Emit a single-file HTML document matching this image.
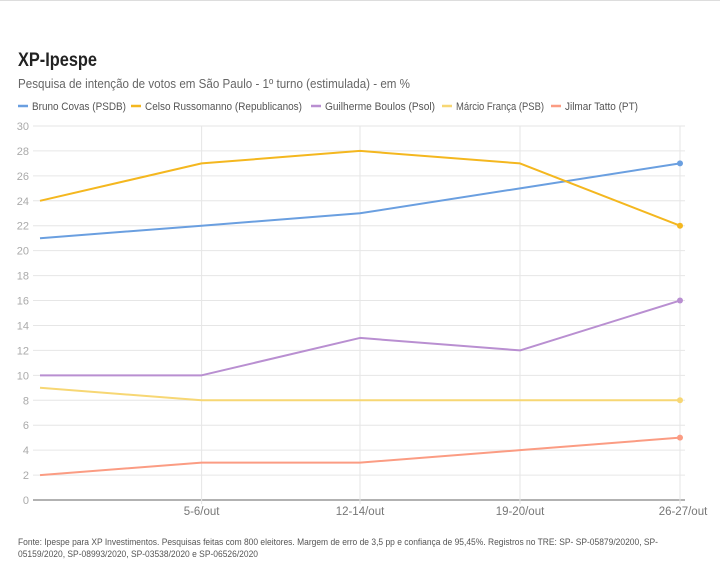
<!DOCTYPE html>
<html><head><meta charset="utf-8">
<style>
body{margin:0;background:#fff;width:720px;height:573px;overflow:hidden;font-family:"Liberation Sans Narrow","Liberation Sans",sans-serif;}
.top{position:absolute;left:0;top:0;width:720px;height:2px;border-top:1px solid #ddd;}
</style></head>
<body>
<div class="top"></div>
<svg id="chart" width="720" height="573" style="position:absolute;left:0;top:0">
<text x="18" y="66" font-size="19" font-weight="bold" fill="#222" textLength="79" lengthAdjust="spacingAndGlyphs">XP-Ipespe</text>
<text x="18" y="88" font-size="12.5" fill="#666" textLength="392" lengthAdjust="spacingAndGlyphs">Pesquisa de intenção de votos em São Paulo - 1º turno (estimulada) - em %</text>
<g id="legend"></g>
<g id="grid"></g>
<g id="series"></g>
<text x="18" y="545" font-size="9" fill="#555" textLength="640" lengthAdjust="spacingAndGlyphs">Fonte: Ipespe para XP Investimentos. Pesquisas feitas com 800 eleitores. Margem de erro de 3,5 pp e confiança de 95,45%. Registros no TRE: SP- SP-05879/20200, SP-</text>
<text x="18" y="557" font-size="9" fill="#555" textLength="240" lengthAdjust="spacingAndGlyphs">05159/2020, SP-08993/2020, SP-03538/2020 e SP-06526/2020</text>
</svg>
<script>
const categories = ["", "5-6/out", "12-14/out", "19-20/out", "26-27/out"];
const catPos = [0, 1.01, 2, 3, 4];
const seriesNames = ["Bruno Covas (PSDB)","Celso Russomanno (Republicanos)","Guilherme Boulos (Psol)","Márcio França (PSB)","Jilmar Tatto (PT)"];
const covas = [21, 22, 23, 25, 27];
const russomanno = [24, 27, 28, 27, 22];
const boulos = [10, 10, 13, 12, 16];
const franca = [9, 8, 8, 8, 8];
const tatto = [2, 3, 3, 4, 5];
const yTicks = [0,2,4,6,8,10,12,14,16,18,20,22,24,26,28,30];
const colors = ["#6a9fe0","#f4b71f","#b98fd1","#f7d774","#fb9c83"];
const allSeries = [covas, russomanno, boulos, franca, tatto];
const legendX = [18, 131, 311, 442, 551];
const legendW = [94, 157, 110, 88, 73];

const NS = "http://www.w3.org/2000/svg";
const x0 = 40, x1 = 680, yBase = 500, yTop = 126;
const xScale = i => x0 + (x1 - x0) * i / 4;
const yScale = v => yBase - (yBase - yTop) * v / 30;
function mk(tag, attrs, parent){const e=document.createElementNS(NS,tag);for(const k in attrs)e.setAttribute(k,attrs[k]);parent.appendChild(e);return e;}

const grid = document.getElementById('grid');
yTicks.forEach(t=>{
  const y=yScale(t);
  const l=mk('line',{x1:33,x2:685,y1:y,y2:y,stroke:t===0?'#999':'#e6e6e6','stroke-width':t===0?1.5:1},grid);
  
  
  const tx=mk('text',{x:29,y:y+4,'text-anchor':'end','font-size':11,fill:'#aaa'},grid);
  tx.textContent=t;
  
  
});
categories.forEach((c,i)=>{
  if(!c) return;
  const x=xScale(catPos[i]);
  const l=mk('line',{x1:x,x2:x,y1:yTop,y2:yBase+4,stroke:'#e6e6e6'},grid);
  
  
  const tx=mk('text',{x:x+(i===4?3:0),y:515,'text-anchor':'middle','font-size':11.5,fill:'#777'},grid);
  tx.textContent=c;
  
  
});

const sg=document.getElementById('series');
allSeries.forEach((vals,si)=>{
  const pts=vals.map((v,i)=>xScale(catPos[i])+','+yScale(v)).join(' ');
  const p=mk('polyline',{points:pts,fill:'none',stroke:colors[si],'stroke-width':2,'stroke-linejoin':'round'},sg);
  
  
  const c=mk('circle',{cx:xScale(catPos[4]),cy:yScale(vals[4]),r:3,fill:colors[si]},sg);
  
  
});

const lg=document.getElementById('legend');
seriesNames.forEach((n,i)=>{
  const lx=legendX[i];
  const l=mk('line',{x1:lx,x2:lx+10,y1:106,y2:106,stroke:colors[i],'stroke-width':2.5},lg);
  
  
  const t=mk('text',{x:lx+14,y:110,'font-size':11,fill:'#555',textLength:legendW[i],lengthAdjust:'spacingAndGlyphs'},lg);
  t.textContent=n;
  
  
});
</script>
</body></html>
